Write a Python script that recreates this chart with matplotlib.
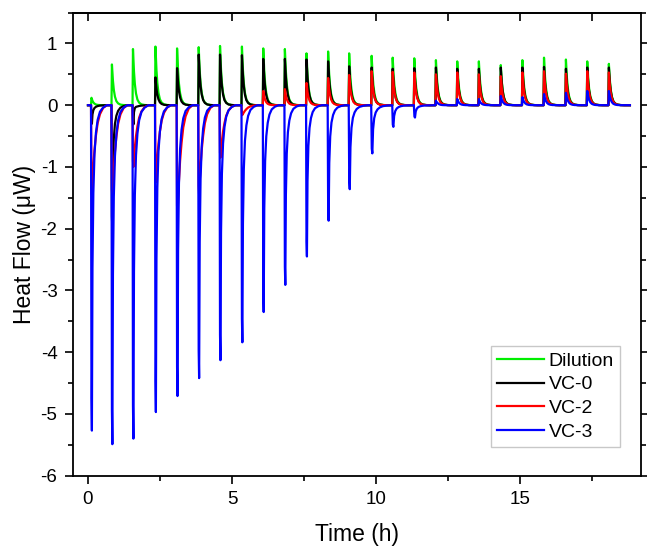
import matplotlib
matplotlib.use('Agg')
import matplotlib.pyplot as plt
from matplotlib.ticker import MultipleLocator
import numpy as np

plt.rcParams['font.family'] = ['Liberation Sans', 'DejaVu Sans']
plt.rcParams['axes.unicode_minus'] = False

# injection times (h)
inj_times = [0.12, 0.83, 1.56, 2.34, 3.09, 3.84, 4.58, 5.34, 6.08, 6.83, 7.58, 8.33, 9.06,
             9.84, 10.57, 11.32, 12.07, 12.81, 13.56, 14.32, 15.07, 15.82, 16.58, 17.32, 18.07]

# peak heights (uW) per injection: exothermic (up) and endothermic (down)
dilution_up = [0.12, 0.66, 0.91, 0.95, 0.92, 0.94, 0.96, 0.95, 0.92, 0.91, 0.84, 0.87, 0.84,
               0.80, 0.77, 0.76, 0.73, 0.71, 0.71, 0.65, 0.73, 0.77, 0.74, 0.71, 0.67]
vc0_up = [0, 0, 0.23, 0.45, 0.60, 0.82, 0.82, 0.81, 0.75, 0.75, 0.74, 0.71, 0.63,
          0.61, 0.59, 0.60, 0.61, 0.59, 0.59, 0.61, 0.61, 0.62, 0.59, 0.61, 0.61]
vc0_down = [-0.3, -2.0, -0.5] + [0] * 22
vc2_up = [0, 0, 0, 0, 0, 0, 0, 0.05, 0.23, 0.26, 0.36, 0.44, 0.49,
          0.55, 0.54, 0.53, 0.50, 0.53, 0.50, 0.47, 0.53, 0.55, 0.51, 0.55, 0.53]
vc2_down = [-1.45, -1.5, -1.0, -1.25, -1.8, -1.45, -0.85, -0.2] + [0] * 17
vc3_up = [0] * 16 + [0.12, 0.10, 0.10, 0.15, 0.13, 0.18, 0.20, 0.23, 0.23]
vc3_down = [-5.27, -5.49, -5.40, -4.97, -4.71, -4.42, -4.13, -3.84, -3.35, -2.91, -2.45, -1.87, -1.36,
            -0.78, -0.35, -0.20, -0.05] + [0] * 8

t_start, t_end = 0.0, 18.8

# peak shape (time after injection, fraction of peak height)
shape_dt = np.array([0, 0.015, 0.03, 0.05, 0.08, 0.12, 0.17, 0.23, 0.31, 0.42, 0.55])
up_shape = np.array([0, 1, 0.82, 0.6, 0.38, 0.21, 0.1, 0.045, 0.015, 0.004, 0])
fast_down = np.array([0, 0.9, 1.0, 0.5, 0.27, 0.15, 0.085, 0.045, 0.02, 0.007, 0])
slow_down = np.array([0, 0.9, 1.0, 0.85, 0.68, 0.5, 0.34, 0.2, 0.1, 0.03, 0])


def build_trace(up, down, down_shape, widths=None):
    ts, ys = [t_start], [0.0]
    for k, t in enumerate(inj_times):
        w = 1.0 if widths is None else widths[k]
        ts.extend(t - 0.015 + shape_dt * w)
        ys.extend(up[k] * up_shape + down[k] * down_shape)
    ts.append(t_end)
    ys.append(0.0)
    return np.array(ts), np.array(ys)


vc3_widths = [1.0] * 11 + [1.1, 1.2, 1.3, 1.3, 1.3] + [1.0] * 9

series = [
    ('Dilution', '#00ee00', build_trace(dilution_up, [0] * 25, fast_down)),
    ('VC-0', 'black', build_trace(vc0_up, vc0_down, fast_down)),
    ('VC-2', '#ff0000', build_trace(vc2_up, vc2_down, slow_down)),
    ('VC-3', '#0000ff', build_trace(vc3_up, vc3_down, fast_down, vc3_widths)),
]

fig = plt.figure(figsize=(6.47, 5.48), dpi=100)
ax = fig.add_axes([0.1124, 0.132, 0.879, 0.845])

for name, color, (t, y) in series:
    ax.plot(t, y, color=color, lw=1.6, label=name)

ax.set_xlim(-0.53, 19.2)
ax.set_ylim(-6, 1.5)
ax.xaxis.set_major_locator(MultipleLocator(5))
ax.xaxis.set_minor_locator(MultipleLocator(2.5))
ax.yaxis.set_major_locator(MultipleLocator(1))
ax.yaxis.set_minor_locator(MultipleLocator(0.5))

ax.tick_params(axis='both', which='major', labelsize=13.5, length=6, width=1.2, pad=5)
ax.tick_params(axis='both', which='minor', length=3.5, width=1.2)
ax.tick_params(axis='both', which='both', direction='out', top=False, right=True)
for s in ax.spines.values():
    s.set_linewidth(1.3)

# top axis: ticks point into the plot, no labels
top = ax.secondary_xaxis('top')
top.xaxis.set_major_locator(MultipleLocator(2.5))
top.tick_params(direction='in', length=6, width=1.2, labeltop=False)
top.spines['top'].set_linewidth(1.3)

ax.set_xlabel('Time (h)', fontsize=16.5, labelpad=11)
ax.set_ylabel('Heat Flow (\u03bcW)', fontsize=16.5, labelpad=3)

leg = ax.legend(loc='lower right', bbox_to_anchor=(0.962, 0.062), borderaxespad=0,
                fontsize=14, handlelength=2.4, handletextpad=0.25, labelspacing=0.32,
                borderpad=0.3, fancybox=False, frameon=True)
leg.get_frame().set_edgecolor('#bbbbbb')
leg.get_frame().set_linewidth(1.0)

plt.savefig('out.png', dpi=100)
